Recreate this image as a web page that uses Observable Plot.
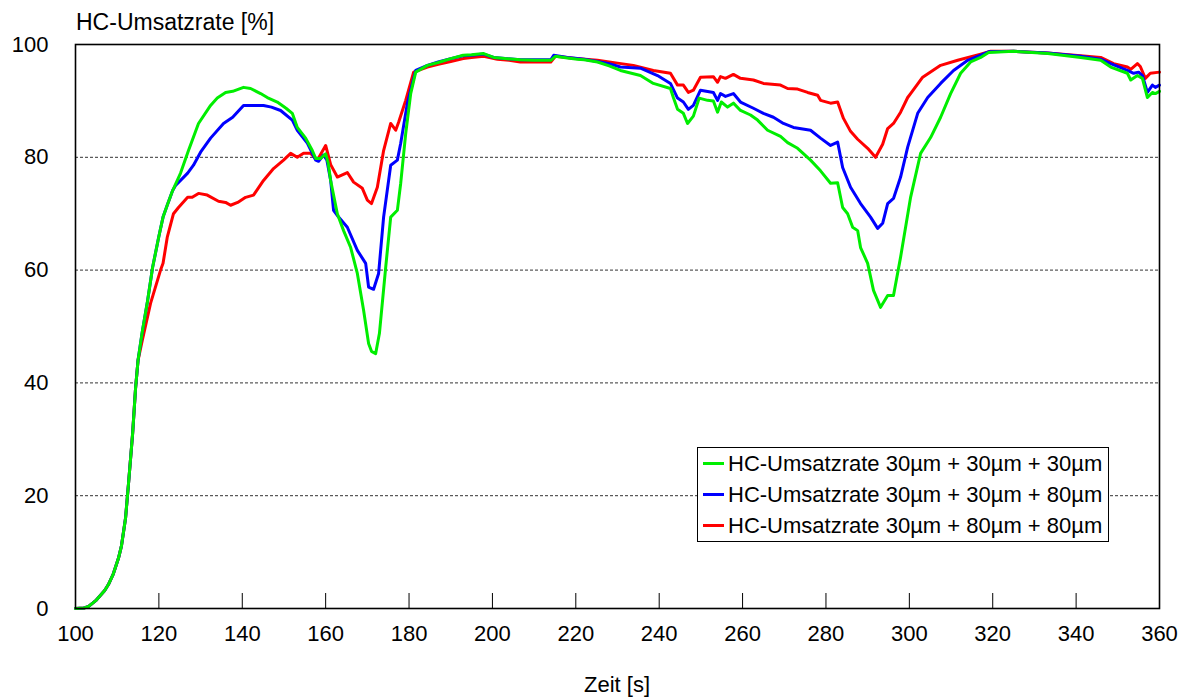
<!DOCTYPE html>
<html><head><meta charset="utf-8">
<script src="https://cdn.jsdelivr.net/npm/d3@7"></script>
<script src="https://cdn.jsdelivr.net/npm/@observablehq/plot@0.6"></script>
<style>
body{margin:0;background:#fff;font-family:"Liberation Sans",Arial,sans-serif;}
#wrap{position:relative;width:1187px;height:698px;overflow:hidden;}
#wrap svg{position:absolute;left:0;top:0;}
.ttl{position:absolute;font-size:23px;color:#000;white-space:nowrap;line-height:1;}
#legend{position:absolute;left:697px;top:447px;width:412px;height:95px;border:1.5px solid #000;background:#fff;box-sizing:border-box;}
.lg{position:absolute;left:5px;height:31px;display:flex;align-items:center;font-size:22px;white-space:nowrap;}
.lg span.sw{display:inline-block;width:21px;height:3px;margin-right:4px;}
</style></head><body>
<div id="wrap"></div>
<script>
const xTicks = [100,120,140,160,180,200,220,240,260,280,300,320,340,360];
const yTicks = [0,20,40,60,80,100];
const gridValues = [20,40,60,80];
const seriesNames = ["HC-Umsatzrate 30µm + 30µm + 30µm","HC-Umsatzrate 30µm + 30µm + 80µm","HC-Umsatzrate 30µm + 80µm + 80µm"];
const seriesColors = ["#00ee00","#0000ff","#ff0000"];
const yTitle = "HC-Umsatzrate [%]";
const xTitle = "Zeit [s]";

// [Zeit s, Umsatz %]
const rise = [[100,0],[102,0.1],[103,0.3],[105,1.5],[107,3.2],[108,4.4],[109,6],[110.3,8.9],[111,11],[112,16],[112.7,22],[113.7,31],[114.4,39],[115,44]];
const green = [[116,49],[117.3,54.6],[118.5,60.5],[120,66],[121,69.4],[122,71.5],[123.3,74.1],[125.2,77.2],[127.1,81.2],[129.5,86],[132.4,89.2],[134,90.5],[136,91.5],[137.7,91.7],[140.3,92.4],[142,92.2],[144.4,91.3],[146,90.6],[148.4,89.8],[150.5,88.7],[152,87.8],[153.2,85.3],[155.2,83.4],[156.8,81.2],[157.6,79.8],[158.8,79.8],[160,80.6],[160.6,79],[161.2,75.9],[162.8,70],[164.3,67],[166,64],[167.6,59.4],[169.1,52.9],[170.3,47],[171,45.6],[172,45.2],[172.9,48.8],[174.4,60.5],[175.6,69.4],[177.2,70.6],[178,75.4],[179.2,84.2],[180.4,91.3],[181.6,95.1],[184.4,96.3],[187,96.8],[190,97.5],[193,98.1],[195,98.2],[197.9,98.4],[200.3,97.7],[203,97.5],[206.7,97.3],[210,97.2],[214,97.2],[215.1,97.9],[218,97.6],[220.4,97.4],[222,97.3],[225.2,96.9],[228,96.2],[230.7,95.4],[235.5,94.5],[238.6,93.1],[242.7,92.2],[243.4,90.6],[244.4,88.5],[245.8,87.8],[246.8,86],[248.2,87.3],[249.6,90.5],[251.6,90.1],[253,90],[254,88],[254.9,89.8],[256.4,88.9],[257.8,89.6],[259.5,88.3],[261.9,87.5],[263.6,86.6],[266,84.8],[269.1,83.7],[270.8,82.6],[273.2,81.6],[276.3,79.5],[278.7,77.6],[281.1,75.4],[282.8,75.5],[284,71.1],[285.2,70],[286.4,67.6],[287.6,67],[288.3,64],[290,61.2],[291.4,56.4],[293.1,53.4],[294.8,55.5],[296.2,55.5],[297.9,62.3],[300.3,72.9],[302.7,80.7],[305.1,83.5],[307.5,87.1],[309.9,91.3],[312.3,94.9],[314.7,96.9],[317.1,97.7],[319,98.6],[325,98.8],[333.2,98.4],[341.1,97.7],[345.9,97.2],[348.3,96],[352.3,94.9],[353.1,93.7],[354.7,94.5],[355.9,94],[357.1,90.6],[358.3,91.5],[359,91.3],[360,91.7]];
const blue = [[116,49],[117.3,54.6],[118.5,60.5],[120,66],[121,69.4],[122,71.5],[123.3,74.1],[124,75],[126.9,77.2],[128.3,78.6],[130,80.9],[132.4,83.4],[135.5,86],[137.7,87.1],[140.3,89.2],[145.1,89.2],[147,88.9],[149.2,88.3],[152,86.6],[153.2,84.8],[155.6,82.5],[157.6,79.5],[158.3,79.3],[159.5,80.4],[160.3,79.5],[161.2,75.9],[161.9,70.6],[163,69.5],[165.2,67.6],[167.6,63.5],[169.6,61.2],[170.3,57],[171.5,56.6],[172.7,59.4],[173.9,69.4],[175.6,78.6],[177.2,79.5],[178,82.5],[179.6,89.6],[181.6,95.4],[184.4,96.3],[187,96.9],[190,97.5],[193,98],[195,98.1],[197.9,98.3],[200.3,97.7],[203,97.5],[206.7,97.3],[210,97.3],[214,97.3],[214.7,98.1],[218,97.7],[220.4,97.5],[222,97.4],[225.2,97],[228,96.6],[230.7,96],[235.5,95.8],[239.6,94.5],[242.7,93.1],[244.4,90.5],[245.8,89.8],[247,88.5],[248.2,89.2],[249.9,91.9],[253,91.5],[254,90.1],[254.7,91.3],[255.9,90.8],[257.8,91.3],[259.5,89.8],[262.6,88.7],[265,87.8],[267.4,87.1],[269.8,86],[272.2,85.3],[276.3,84.8],[278.7,83.4],[281.1,82.1],[282.8,82.7],[284,78.2],[285.9,74.7],[288.3,71.8],[290.7,69.4],[292.4,67.4],[293.6,68.3],[294.8,71.8],[296.2,72.7],[297.9,76.5],[299.6,81.8],[302,87.8],[304.4,90.6],[307.5,93.1],[310.6,95.4],[314,97.2],[317.1,98.1],[319,98.7],[325,98.8],[333.2,98.5],[341.1,97.9],[345.9,97.4],[348.3,96.6],[352.3,95.4],[353.8,94.9],[355,95.1],[355.9,94.5],[357.1,91.5],[358.3,92.8],[359,92.4],[360,92.8]];
const red = [[116,47.5],[118,54.1],[120.4,60],[121,61.2],[122,65.8],[123.5,70],[124.7,71.1],[126.9,72.9],[128,72.9],[129.5,73.6],[131.6,73.3],[134.3,72.2],[136,72],[137.2,71.5],[138.9,72],[140.8,72.9],[142.7,73.3],[145.1,75.9],[147.5,78],[149.9,79.5],[151.6,80.7],[153.2,80],[154.7,80.7],[156.4,80.7],[158,79.5],[160,82.1],[161.2,78.7],[162.8,76.5],[165.2,77.3],[166.7,75.6],[168.8,74.5],[170,72.4],[171,71.8],[172.4,74.7],[173.9,81.2],[175.6,86],[176.8,84.8],[177.5,86.2],[179.2,90.1],[181.1,95.1],[184.4,96],[187,96.5],[190,97],[193,97.5],[195,97.7],[197.9,97.9],[201.2,97.4],[204,97.2],[206.7,96.9],[210,96.9],[214,96.9],[215.1,97.9],[220,97.5],[225.2,97.2],[230,96.7],[233.8,96.3],[238.6,95.4],[242.7,94.9],[244.4,92.8],[245.8,92.8],[247,91.5],[248.2,91.9],[249.9,94.2],[253,94.3],[254,93.3],[254.7,94.3],[255.9,94],[257.8,94.7],[259.5,94],[262.6,93.7],[265,93.1],[269.1,92.8],[270.8,92.2],[273.2,92.1],[275.6,91.5],[278,91],[278.7,90.1],[281.1,89.6],[282.8,89.8],[284.2,86.9],[285.9,84.6],[287.6,83.2],[290,81.6],[291.9,80],[293.6,82.3],[294.8,85.1],[296.2,86],[297.9,88],[299.6,90.6],[300.3,91.3],[303.2,94.2],[307.5,96.3],[311.6,97.2],[317.1,98.3],[319.5,98.8],[325,98.8],[333.2,98.5],[341.1,98],[345.9,97.7],[349,96.6],[352.3,96],[353.1,95.6],[354.7,96.6],[355.4,96.1],[356.6,94],[357.8,94.9],[360,95.1]];

const seriesPoints = [green, blue, red];
const rows = [];
seriesPoints.forEach((pts, i) => {
  rise.concat(pts).forEach(([t, v]) => rows.push({t, v, s: seriesNames[i]}));
});
const drawOrder = [2, 1, 0];
const tickLen = 15 / 5.64; // inward tick length in y units (approx. 15px)

const chart = Plot.plot({
  width: 1187, height: 698,
  marginLeft: 75, marginRight: 28, marginTop: 44, marginBottom: 90,
  style: {fontFamily: '"Liberation Sans", Arial, sans-serif', fontSize: "22px", background: "white", color: "black"},
  x: {domain: [100, 360]},
  y: {domain: [0, 100]},
  color: {domain: seriesNames, range: seriesColors},
  marks: [
    Plot.ruleY(gridValues, {stroke: "#333", strokeDasharray: "3,2", strokeWidth: 1}),
    Plot.ruleX(xTicks, {y1: 0, y2: tickLen, stroke: "black", strokeWidth: 1}),
    ...drawOrder.map(i => Plot.line(rows.filter(r => r.s === seriesNames[i]), {x: "t", y: "v", stroke: "s", strokeWidth: 3, strokeLinejoin: "round"})),
    Plot.frame({stroke: "black", strokeWidth: 1.6}),
    Plot.axisX({ticks: xTicks, tickSize: 0, tickPadding: 17, label: null, fontSize: 22}),
    Plot.axisY({ticks: yTicks, tickSize: 0, tickPadding: 27, label: null, fontSize: 22})
  ]
});
const wrap = document.getElementById("wrap");
wrap.appendChild(chart);

const t1 = document.createElement("div");
t1.className = "ttl"; t1.textContent = yTitle;
t1.style.left = "76px"; t1.style.top = "11px";
wrap.appendChild(t1);
const t2 = document.createElement("div");
t2.className = "ttl"; t2.textContent = xTitle;
t2.style.left = "617px"; t2.style.top = "674px"; t2.style.transform = "translateX(-50%)"; t2.style.fontSize = "22px";
wrap.appendChild(t2);

const lg = document.createElement("div");
lg.id = "legend";
seriesNames.forEach((n, i) => {
  const e = document.createElement("div");
  e.className = "lg";
  e.style.top = (i * 31) + "px";
  const sw = document.createElement("span");
  sw.className = "sw"; sw.style.background = seriesColors[i];
  e.appendChild(sw);
  e.appendChild(document.createTextNode(n));
  lg.appendChild(e);
});
wrap.appendChild(lg);
</script>
</body></html>
